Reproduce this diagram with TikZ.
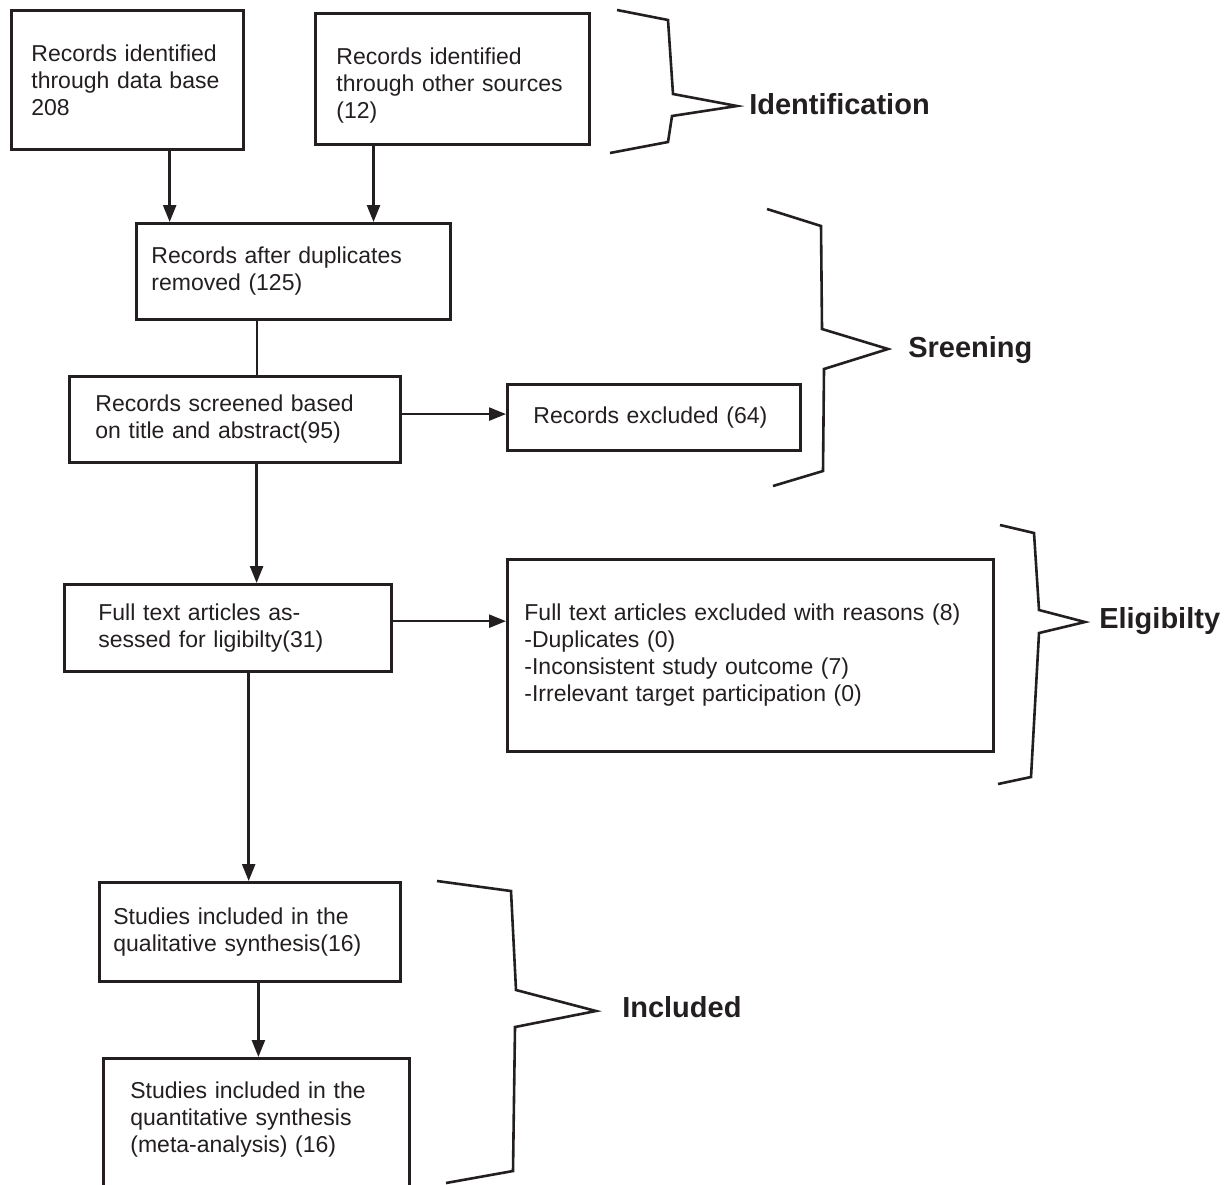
\documentclass[tikz,border=0pt]{standalone}
\usepackage{fontspec}
\setmainfont{Liberation Sans}
\usetikzlibrary{calc,arrows.meta}
\definecolor{ink}{RGB}{35,31,32}
\tikzset{
  box/.style={draw=ink, line width=2.8pt, anchor=north west, align=left, text=ink,
    font=\fontsize{23}{27}\selectfont, inner ysep=0pt},
  stage/.style={anchor=base west, text=ink, inner sep=0pt,
    font=\fontsize{29}{34}\selectfont\bfseries},
  brace/.style={draw=ink, line width=2.6pt, line join=miter}
}

\begin{document}
\begin{tikzpicture}[x=1pt, y=-1pt, line width=2.5pt, draw=ink,
    >={Triangle[length=17pt,width=13pt]}]
  \useasboundingbox (0,0) rectangle (1230,1184);
  \node[box, text width=192pt, inner xsep=20pt, minimum height=139pt] (I1) at (10,9)
    {Records identified\\through data base\\208};
  \node[box, text width=232pt, inner xsep=21pt, minimum height=131pt, text height=30pt] (I2) at (314,12)
    {Records identified\\through other sources\\(12)};
  \node[box, text width=284pt, inner xsep=15pt, minimum height=96pt] (S1) at (135,222)
    {Records after duplicates\\removed (125)};
  \node[box, text width=279pt, inner xsep=26pt, minimum height=86pt] (S2) at (68,375)
    {Records screened based\\on title and abstract(95)};
  \node[box, text width=241pt, inner xsep=26pt, minimum height=66pt] (S3) at (506,383)
    {Records excluded (64)};
  \node[box, text width=259pt, inner xsep=34pt, minimum height=87pt] (E1) at (63,583)
    {Full text articles as-\\sessed for ligibilty(31)};
  \node[box, text width=452pt, inner xsep=17pt, minimum height=192pt] (E2) at (506,558)
    {Full text articles excluded with reasons (8)\\-Duplicates (0)\\-Inconsistent study outcome (7)\\-Irrelevant target participation (0)};
  \node[box, text width=273pt, inner xsep=14pt, minimum height=99pt] (N1) at (98,881)
    {Studies included in the\\qualitative synthesis(16)};
  \node[box, text width=252pt, inner xsep=27pt, minimum height=134pt, text depth=71pt] (N2) at (102,1057)
    {Studies included in the\\quantitative synthesis\\(meta-analysis) (16)};

  \coordinate (a1) at ($(I1.south west)!0.68!(I1.south east)$);
  \coordinate (a2) at ($(I2.south west)!0.215!(I2.south east)$);
  \coordinate (c1) at ($(S1.south west)!0.385!(S1.south east)$);
  \coordinate (d1) at ($(S2.south west)!0.565!(S2.south east)$);
  \coordinate (b1) at ($(S2.north east)!0.44!(S2.south east)$);
  \coordinate (e1) at ($(E1.north east)!0.425!(E1.south east)$);
  \coordinate (f1) at ($(E1.south west)!0.563!(E1.south east)$);
  \coordinate (h1) at ($(N1.south west)!0.528!(N1.south east)$);
  \path[->] (a1) edge (a1 |- S1.north);
  \path[->] (a2) edge (a2 |- S1.north);
  \path[-] (c1) edge (c1 |- S2.north);
  \path[->] (b1) edge (b1 -| S3.west);
  \path[->] (d1) edge (d1 |- E1.north);
  \path[->] (e1) edge (e1 -| E2.west);
  \path[->] (f1) edge (f1 |- N1.north);
  \path[->] (h1) edge (h1 |- N2.north);

  \draw[brace] (617,10) -- (668,20) -- (673,94) -- (737,106) coordinate (t1)
    -- (672,116) -- (668,142) -- (610,153);
  \draw[brace] (767,209) -- (821,226) -- (822,329) -- (888,349) coordinate (t2)
    -- (824,369) -- (823,471) -- (773,486);
  \draw[brace] (1000,525) -- (1034,533) -- (1039,610) -- (1085,622) coordinate (t3)
    -- (1039,633) -- (1031,777) -- (998,784);
  \draw[brace] (437,881) -- (511,891) -- (516,990) -- (596,1011) coordinate (t4)
    -- (515,1027) -- (513,1171) -- (446,1183);
  \node[stage] (Lid) at ($(t1)+(11,8)$) {Identification};
  \node[stage] (Lsc) at ($(t2)+(19,8)$) {Sreening};
  \node[stage] (Lel) at ($(t3)+(13,6)$) {Eligibilty};
  \node[stage] (Lin) at ($(t4)+(25,6)$) {Included};
\end{tikzpicture}
\end{document}
